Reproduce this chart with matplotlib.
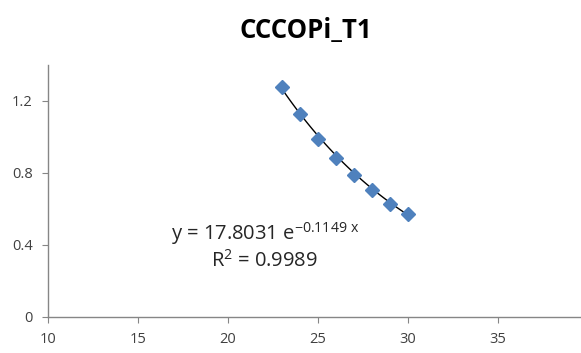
import numpy as np
import matplotlib
matplotlib.use("Agg")
import matplotlib.pyplot as plt

title = "CCCOPi_T1"
x_vals = [23, 24, 25, 26, 27, 28, 29, 30]
y_vals = [1.28, 1.13, 0.99, 0.885, 0.79, 0.705, 0.63, 0.575]
x_ticks = [10, 15, 20, 25, 30, 35, 40]
x_tick_labels = ['10', '15', '20', '25', '30', '35', '']
y_ticks = [0, 0.4, 0.8, 1.2]
y_tick_labels = ['0', '0.4', '0.8', '1.2']
eq_a = 17.8031
eq_b = -0.1149
r2 = 0.9989

plt.rcParams['font.family'] = ['Open Sans', 'DejaVu Sans']

fig = plt.figure(figsize=(5.81, 3.53), dpi=100)
ax = fig.add_axes([48/581, 36/353, (588-48)/581, (317-65)/353])

xs = np.linspace(min(x_vals), max(x_vals), 100)
ax.plot(xs, eq_a*np.exp(eq_b*xs), color='black', lw=1.0, zorder=2)
ax.plot(x_vals, y_vals, linestyle='none', marker='D', markersize=7.5,
        color='#4F81BD', markeredgecolor='#4F81BD', zorder=3)

ax.set_xlim(10, 40)
ax.set_ylim(0, 1.4)
ax.set_xticks(x_ticks)
ax.set_xticklabels(x_tick_labels)
ax.set_yticks(y_ticks)
ax.set_yticklabels(y_tick_labels)
for s in ['top', 'right']:
    ax.spines[s].set_visible(False)
for s in ['left', 'bottom']:
    ax.spines[s].set_color('#868686')
    ax.spines[s].set_linewidth(1.0)
ax.tick_params(axis='both', colors='#868686', labelcolor='#404040', labelsize=10.5, length=4, direction='out')
ax.tick_params(axis='x', pad=7)
ax.tick_params(axis='y', pad=7)

ax.text(22.1, 0.465, r"y = 17.8031 e$^{\mathregular{-0.1149\ x}}$", fontsize=14.5, ha='center', va='center', color='#262626')
ax.text(22.05, 0.31, r"R$^{\mathregular{2}}$ = 0.9989", fontsize=14.5, ha='center', va='center', color='#262626')

fig.text(306/581, 1-31/353, title, fontsize=18.5, fontweight='bold', ha='center', va='center')

fig.savefig('out.png', dpi=100)
